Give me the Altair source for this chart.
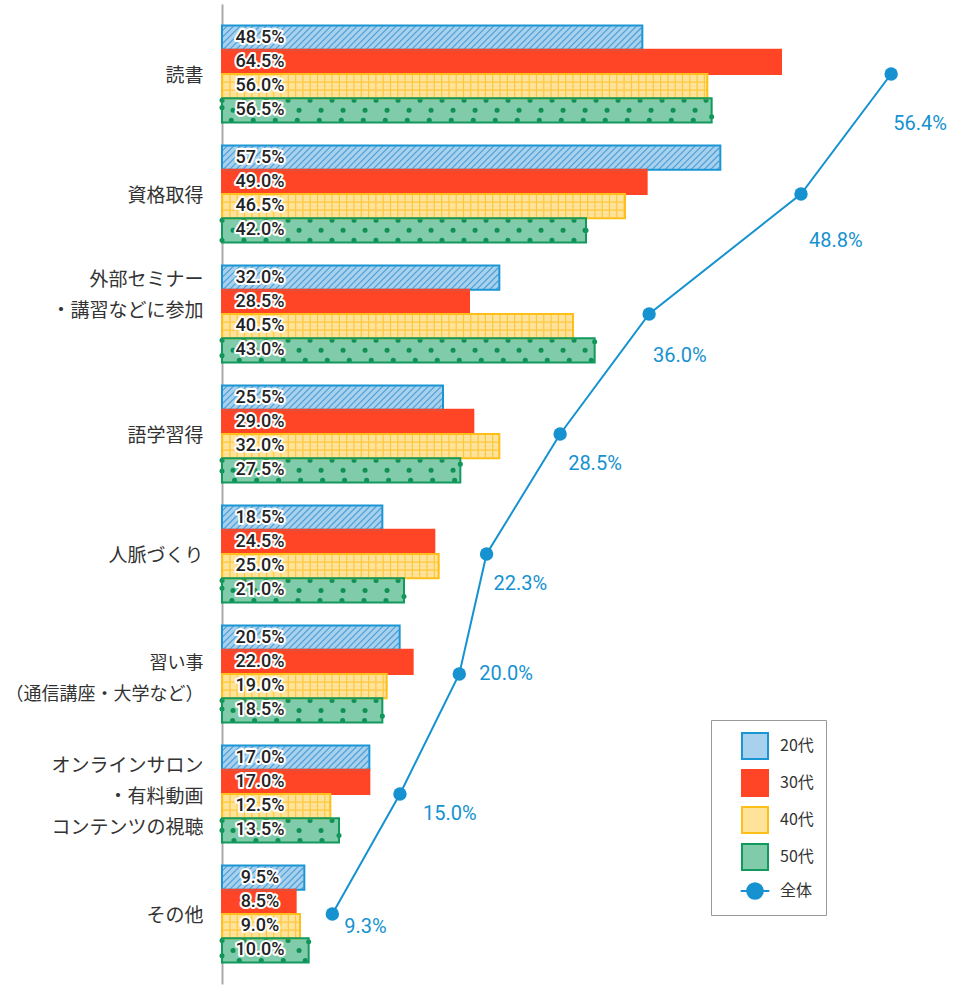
import altair as alt
import pandas as pd

categories = [
    "読書",
    "資格取得",
    "外部セミナー\n・講習などに参加",
    "語学習得",
    "人脈づくり",
    "習い事\n（通信講座・大学など）",
    "オンラインサロン\n・有料動画\nコンテンツの視聴",
    "その他",
]
series = ["20代", "30代", "40代", "50代"]
v20 = [48.5, 57.5, 32.0, 25.5, 18.5, 20.5, 17.0, 9.5]
v30 = [64.5, 49.0, 28.5, 29.0, 24.5, 22.0, 17.0, 8.5]
v40 = [56.0, 46.5, 40.5, 32.0, 25.0, 19.0, 12.5, 9.0]
v50 = [56.5, 42.0, 43.0, 27.5, 21.0, 18.5, 13.5, 10.0]
overall_name = "全体"
overall = [56.4, 48.8, 36.0, 28.5, 22.3, 20.0, 15.0, 9.3]

# styles
fill_colors = ["#a8d1ee", "#ff4526", "#ffe39b", "#80cba9"]
stroke_colors = ["#1a96d4", "#ff4526", "#ffbf1a", "#129a5e"]
hatch_color = "#4f9fd6"
grid_color = "#ffc83c"
dot_color = "#0f9155"
line_color = "#1592cf"
X_MAX_BAR = 80.77
PX = 700 / X_MAX_BAR      # pixels per percentage point on the bar scale
HATCH_STEP = 6.5          # pixel spacing of the hatch stripes
# label offsets (dx, dy) for the overall line labels, per category
line_label_dx = [2, 8, 4, 8, 7, 20, 23, 12]
line_label_dy = [50, 47, 42, 30, 30, 0, 20, 13]

rows = []
for s, vals in zip(series, [v20, v30, v40, v50]):
    for c, v in zip(categories, vals):
        rows.append({"cat": c, "series": s, "value": v, "label": f"{v:.1f}%"})
bars_df = pd.DataFrame(rows)

line_df = pd.DataFrame({
    "cat": categories,
    "total": overall,
    "label": [f"{v:.1f}%" for v in overall],
    "order": list(range(len(categories))),
})

y_scale = alt.Scale(domain=categories, paddingInner=0.1917, paddingOuter=0.179)
y_axis = alt.Axis(
    title=None,
    domain=True,
    domainColor="#aaaaaa",
    domainWidth=2,
    ticks=False,
    grid=False,
    labelFont="Noto Sans CJK JP",
    labelFontSize={"expr": "indexof(datum.value, '通信') >= 0 ? 18 : 19"},
    labelColor="#333333",
    labelPadding=19,
    labelLimit=300,
    labelLineHeight=31,
    labelExpr="split(datum.label, '\\n')",
    labelOffset={"expr": "indexof(datum.value, '外部') >= 0 ? -34 : "
                         "indexof(datum.value, '通信') >= 0 ? -10 : "
                         "indexof(datum.value, 'オンライン') >= 0 ? -28 : 2"},
)

Y = alt.Y("cat:N", scale=y_scale, axis=y_axis)
YOFF = alt.YOffset("series:N", sort=series,
                   scale=alt.Scale(domain=series, paddingInner=0, paddingOuter=0))
x_scale_bar = alt.Scale(domain=[0, X_MAX_BAR], nice=False, zero=True)
X_BAR = alt.X("value:Q", scale=x_scale_bar, axis=None)
X_ZERO = alt.X("zero:Q", scale=x_scale_bar, axis=None)

stroke_expr = (
    "datum.value === '20代' ? '%s' : datum.value === '30代' ? '%s' : "
    "datum.value === '40代' ? '%s' : datum.value === '50代' ? '%s' : '%s'"
    % (stroke_colors[0], stroke_colors[1], stroke_colors[2], stroke_colors[3], line_color)
)
shape_expr = (
    "datum.value === '全体' ? 'M-1.1,0H1.1M-0.6,0A0.6,0.6,0,1,0,0.6,0A0.6,0.6,0,1,0,-0.6,0Z' : 'square'"
)

legend = alt.Legend(
    title=None,
    orient="none",
    legendX=489,
    legendY=716,
    fillColor="white",
    strokeColor="#999999",
    padding=12,
    cornerRadius=0,
    symbolSize=676,
    symbolStrokeWidth=2,
    symbolOffset=18,
    labelOffset=11,
    rowPadding=3,
    labelFont="Noto Sans CJK JP",
    labelFontSize=16,
    labelColor="#333333",
    symbolType={"expr": shape_expr},
    symbolStrokeColor={"expr": stroke_expr},
)

base = alt.Chart(bars_df)

bars = base.mark_bar().encode(
    y=Y, yOffset=YOFF, x=X_BAR,
    fill=alt.Fill("series:N",
                  scale=alt.Scale(domain=series + [overall_name], range=fill_colors + [line_color]),
                  legend=legend),
)

# 20代: diagonal hatch, one clipped diagonal stroke per stripe along each bar
hatch = base.transform_filter(alt.datum.series == series[0]).transform_calculate(
    L="datum.value * %f" % PX,
).transform_calculate(
    k="sequence(-1, ceil((datum.L + 12) / %f) + 1)" % HATCH_STEP,
).transform_flatten(["k"]).transform_calculate(
    cx="datum.k * %f" % HATCH_STEP,
).transform_calculate(
    a="round(max(-1, -datum.cx / 12) * 1000) / 1000",
    b="round(min(1, (datum.L - 1 - datum.cx) / 12) * 1000) / 1000",
).transform_filter("datum.b > datum.a").transform_calculate(
    path="'M' + datum.a + ',' + (0 - datum.a) + 'L' + datum.b + ',' + (0 - datum.b)",
    xu="datum.cx / %f" % PX,
).mark_point(size=576, filled=False, stroke=hatch_color, strokeWidth=1.3, opacity=1).encode(
    y=Y, yOffset=YOFF,
    x=alt.X("xu:Q", scale=x_scale_bar, axis=None),
    shape=alt.Shape("path:N", scale=None),
)

# 40代: grid
grid_v = base.transform_filter(alt.datum.series == series[2]).transform_calculate(zero="0").mark_rule(
    strokeWidth=22, strokeDash=[1.2, 6.1], color=grid_color,
).encode(y=Y, yOffset=YOFF, x=X_ZERO, x2="value:Q")
grid_h = base.transform_filter(alt.datum.series == series[2]).mark_bar(
    height=8, fill="transparent", stroke=grid_color, strokeWidth=1.2,
).encode(y=Y, yOffset=YOFF, x=X_BAR)

# 50代: dots
dots_mid = base.transform_filter(alt.datum.series == series[3]).transform_calculate(zero="0").mark_rule(
    strokeWidth=5, strokeCap="round", strokeDash=[0.1, 21.9], strokeDashOffset=11, color=dot_color,
).encode(y=Y, yOffset=YOFF, x=X_ZERO, x2="value:Q")
dots_edge = base.transform_filter(alt.datum.series == series[3]).mark_bar(
    height=20, fill="transparent", stroke=dot_color, strokeWidth=5, strokeCap="round",
    strokeDash=[0.1, 21.9],
).encode(y=Y, yOffset=YOFF, x=X_BAR)

outline = base.mark_bar(fill="transparent", strokeWidth=2).encode(
    y=Y, yOffset=YOFF, x=X_BAR,
    stroke=alt.Stroke("series:N", scale=alt.Scale(domain=series, range=stroke_colors), legend=None),
)

label_base = base.encode(y=Y, yOffset=YOFF, x=alt.value(38), text="label:N")
halo = label_base.mark_text(font="Roboto", fontSize=18, fontWeight=500, align="center",
                            baseline="middle", stroke="white", strokeWidth=4,
                            strokeJoin="round", fill="white")
labels = label_base.mark_text(font="Roboto", fontSize=18, fontWeight=500, align="center",
                              baseline="middle", color="#222222")

bar_layer = alt.layer(bars, hatch, grid_v, grid_h, dots_mid, dots_edge, outline, halo, labels)

x_line = alt.X("total:Q", scale=alt.Scale(domain=[0, 59], nice=False, zero=True), axis=None)
line = alt.Chart(line_df).mark_line(color=line_color, strokeWidth=2).encode(
    y=Y, x=x_line, order="order:Q",
)
points = alt.Chart(line_df).mark_circle(size=180, color=line_color, opacity=1).encode(
    y=Y, x=x_line,
)
line_labels = []
for i, c in enumerate(categories):
    line_labels.append(
        alt.Chart(line_df).transform_filter(alt.datum.order == i).mark_text(
            font="Roboto", fontSize=20, align="left", baseline="middle", color=line_color,
            dx=line_label_dx[i], dy=line_label_dy[i],
        ).encode(y=Y, x=x_line, text="label:N")
    )
line_layer = alt.layer(line, points, *line_labels)

chart = alt.layer(bar_layer, line_layer).resolve_scale(x="independent").properties(
    width=700,
    height=980,
    padding={"left": 222, "top": 4, "right": 38, "bottom": 6},
    autosize=alt.AutoSizeParams(type="none"),
    background="white",
).configure_view(stroke=None)

chart.save("out.html", embed_options={"renderer": "svg", "actions": False})
